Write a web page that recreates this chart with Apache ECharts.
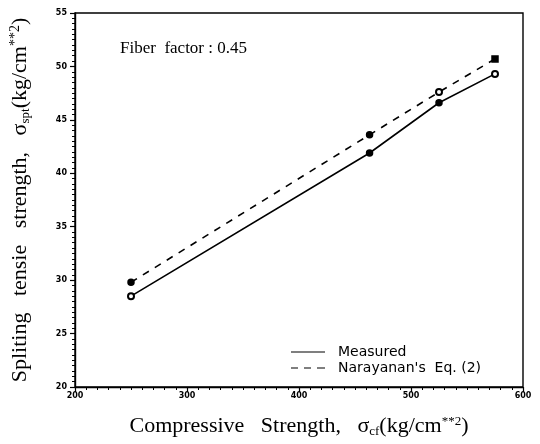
<!DOCTYPE html>
<html><head><meta charset="utf-8">
<script src="https://cdn.jsdelivr.net/npm/echarts@6/dist/echarts.min.js"></script>
<style>html,body{margin:0;padding:0;background:#fff}#c{width:540px;height:444px}</style>
</head><body><div id="c"></div>
<script>
var compressive = [250, 463, 525, 575];
var measured = [28.5, 41.9, 46.6, 49.3];
var narayanan = [29.8, 43.6, 47.6, 50.7];
var measuredSymbols = ['emptyCircle', 'circle', 'circle', 'emptyCircle'];
var narayananSymbols = ['circle', 'circle', 'emptyCircle', 'rect'];
var seriesNames = ['Measured', "Narayanan's  Eq. (2)"];

function pts(ys, syms) {
  return ys.map(function (y, i) {
    return { value: [compressive[i], y], symbol: syms[i] };
  });
}
var chart = echarts.init(document.getElementById('c'));
var tickFont = { fontFamily: 'DejaVu Sans', fontWeight: 'bold', fontSize: 8, color: '#000' };
chart.setOption({
  animation: false,
  backgroundColor: '#fff',
  grid: { left: 74, right: 17, top: 13, bottom: 57, show: true, borderColor: '#000', borderWidth: 1.4 },
  xAxis: {
    type: 'value', min: 200, max: 600, interval: 100,
    axisLine: { lineStyle: { color: '#000', width: 1.4 } },
    axisTick: { length: 5, lineStyle: { color: '#000', width: 1.2 } },
    minorTick: { show: true, splitNumber: 10, length: 3, lineStyle: { color: '#000' } },
    splitLine: { show: false },
    axisLabel: Object.assign({ margin: 5 }, tickFont),
    name: '{t|Compressive   Strength,   σ}{s|cf}{t|(kg/cm}{p|**2}{t|)}',
    nameLocation: 'middle', nameGap: 28,
    nameTextStyle: {
      rich: {
        t: { fontFamily: 'Liberation Serif', fontSize: 22, color: '#000' },
        s: { fontFamily: 'Liberation Serif', fontSize: 13, color: '#000', verticalAlign: 'bottom', padding: [10, 0, 0, 0] },
        p: { fontFamily: 'Liberation Serif', fontSize: 13, color: '#000', verticalAlign: 'top', padding: [0, 0, 10, 0] }
      }
    }
  },
  yAxis: {
    type: 'value', min: 20, max: 55, interval: 5,
    axisLine: { lineStyle: { color: '#000', width: 1.4 } },
    axisTick: { length: 5, lineStyle: { color: '#000', width: 1.2 } },
    minorTick: { show: true, splitNumber: 10, length: 3, lineStyle: { color: '#000' } },
    splitLine: { show: false },
    axisLabel: Object.assign({ margin: 8 }, tickFont),
    name: '{t|Spliting   tensie   strength,   σ}{s|spt}{t|(kg/cm}{p|**2}{t|)}',
    nameLocation: 'middle', nameGap: 43,
    nameTextStyle: {
      rich: {
        t: { fontFamily: 'Liberation Serif', fontSize: 22, color: '#000' },
        s: { fontFamily: 'Liberation Serif', fontSize: 13, color: '#000', verticalAlign: 'bottom', padding: [10, 0, 0, 0] },
        p: { fontFamily: 'Liberation Serif', fontSize: 14, color: '#000', verticalAlign: 'top', padding: [0, 0, 10, 0] }
      }
    }
  },
  legend: {
    orient: 'vertical', left: 286, top: 340, itemWidth: 34, itemHeight: 12, itemGap: 2,
    itemStyle: { borderWidth: 0 },
    textStyle: { fontFamily: 'DejaVu Sans', fontSize: 14, color: '#000', padding: [0, 0, 0, 8] },
    data: [
      { name: seriesNames[0], icon: 'path://M0,0h34v1.1h-34z' },
      { name: seriesNames[1], icon: 'path://M0,0h7v1.1h-7zM13,0h7v1.1h-7zM26,0h8v1.1h-8z' }
    ]
  },
  graphic: [{
    type: 'text', left: 120, top: 40,
    style: { text: 'Fiber  factor : 0.45', font: '17px "Liberation Serif"', fill: '#000' }
  }],
  series: [
    {
      name: seriesNames[0], type: 'line', symbol: 'none', symbolSize: 6,
      lineStyle: { color: '#000', width: 1.6, type: 'solid' },
      itemStyle: { color: '#000', borderColor: '#000', borderWidth: 1.5 },
      data: pts(measured, measuredSymbols)
    },
    {
      name: seriesNames[1], type: 'line', symbol: 'none', symbolSize: 6,
      lineStyle: { color: '#000', width: 1.6, type: [7, 7] },
      itemStyle: { color: '#000', borderColor: '#000', borderWidth: 1.5 },
      data: pts(narayanan, narayananSymbols)
    }
  ]
});
</script></body></html>
